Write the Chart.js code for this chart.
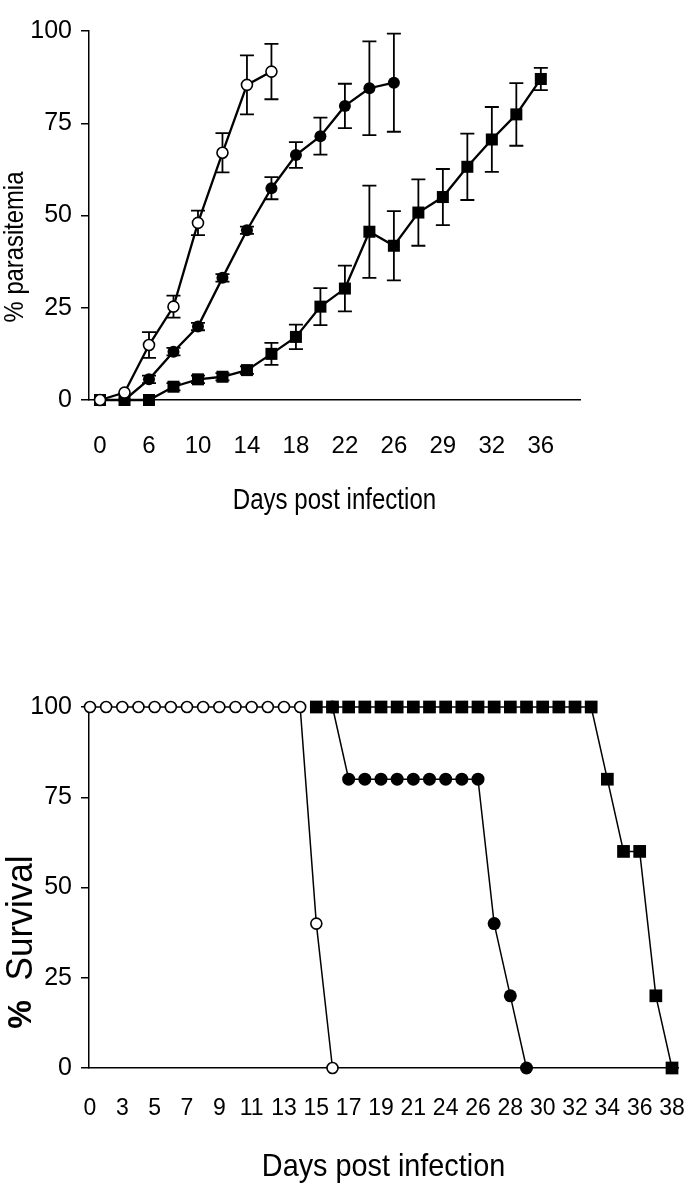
<!DOCTYPE html>
<html>
<head>
<meta charset="utf-8">
<script src="https://cdn.jsdelivr.net/npm/chart.js@4.4.1/dist/chart.umd.min.js"></script>
<style>
  body { margin: 0; background: #fff; }
  canvas { position: absolute; left: 0; }
  #parasitemia { top: 0; }
  #survival { top: 600px; }
</style>
</head>
<body>
<canvas id="parasitemia" width="698" height="540"></canvas>
<canvas id="survival" width="698" height="599"></canvas>
<script>
// ---- Parasitemia data (one entry per sampling day) ----
const paraDays = [0, 3, 6, 8, 10, 12, 14, 16, 18, 20, 22, 24, 26, 28, 29, 31, 32, 34, 36];
const openPara     = [0, 2, 14.9, 25.3, 48, 67, 85.4, 89];
const openParaErr  = [0, 0, 3.5, 3, 3.3, 5.3, 8, 7.5];
const filledPara    = [null, 0, 5.6, 13.1, 19.9, 33.1, 46, 57.4, 66.4, 71.5, 79.7, 84.5, 86];
const filledParaErr = [null, 0, 1, 1, 1, 1, 1, 3, 3.5, 5, 6, 12.7, 13.3];
const squarePara    = [0, 0, 0, 3.6, 5.6, 6.3, 8.1, 12.5, 17.1, 25.3, 30.2, 45.6, 41.8, 50.8, 55, 63.2, 70.6, 77.4, 87];
const squareParaErr = [0, 0, 0, 1, 1, 1, 1, 3, 3.3, 5, 6.2, 12.5, 9.4, 9, 7.6, 9, 8.8, 8.5, 3];

// ---- Survival data ----
const survDays = [0, 2, 3, 4, 5, 6, 7, 8, 9, 10, 11, 12, 13, 14, 15, 16, 17, 18, 19, 20, 21, 22,
                  24, 25, 26, 27, 28, 29, 30, 31, 32, 33, 34, 35, 36, 37, 38];
const openSurv   = [100, 100, 100, 100, 100, 100, 100, 100, 100, 100, 100, 100, 100, 100, 40, 0];
const filledSurv = [null, null, null, null, null, null, null, null, null, null, null, null, null, null,
                    null, 100, 80, 80, 80, 80, 80, 80, 80, 80, 80, 40, 20, 0];
const squareSurv = [null, null, null, null, null, null, null, null, null, null, null, null, null, null,
                    100, 100, 100, 100, 100, 100, 100, 100, 100, 100, 100, 100, 100, 100, 100, 100, 100, 100,
                    80, 60, 60, 20, 0];

const yTicks = [0, 25, 50, 75, 100];

const FONT = '"Liberation Sans", Arial, sans-serif';
Chart.defaults.color = '#000';
Chart.defaults.font.family = FONT;

function toPoints(values, errors) {
    return values
        .map((v, i) => ({ x: i, y: v, err: errors ? errors[i] : 0 }))
        .filter(p => p.y !== null);
}

// error bars with caps, drawn under the markers
const errorBars = {
    id: 'errorBars',
    beforeDatasetsDraw(chart) {
        const { ctx, scales: { x, y } } = chart;
        ctx.save();
        ctx.strokeStyle = '#000';
        ctx.lineWidth = 1.8;
        chart.data.datasets.forEach(ds => {
            ds.data.forEach(p => {
                if (!p.err) return;
                const px = x.getPixelForValue(p.x);
                const top = y.getPixelForValue(p.y + p.err);
                const bot = y.getPixelForValue(p.y - p.err);
                ctx.beginPath();
                ctx.moveTo(px, top); ctx.lineTo(px, bot);
                ctx.moveTo(px - 7, top); ctx.lineTo(px + 7, top);
                ctx.moveTo(px - 7, bot); ctx.lineTo(px + 7, bot);
                ctx.stroke();
            });
        });
        ctx.restore();
    }
};

// axis titles: narrow-looking text (squeezed along the writing direction),
// mixed font runs allowed, optional rotation for the y title
const axisTitles = {
    id: 'axisTitles',
    afterDraw(chart, args, opts) {
        const ctx = chart.ctx;
        const area = chart.chartArea;
        opts.items.forEach(item => {
            ctx.save();
            const cx = item.x === undefined ? (area.left + area.right) / 2 : item.x;
            ctx.translate(cx, item.y);
            if (item.vertical) ctx.rotate(-Math.PI / 2);
            ctx.scale(item.squeeze || 1, 1);
            ctx.fillStyle = '#000';
            ctx.textBaseline = 'middle';
            ctx.textAlign = 'left';
            let total = 0;
            item.parts.forEach(p => { ctx.font = p.font; total += ctx.measureText(p.text).width; });
            let pos = -total / 2;
            item.parts.forEach(p => {
                ctx.font = p.font;
                ctx.fillText(p.text, pos, 0);
                pos += ctx.measureText(p.text).width;
            });
            ctx.restore();
        });
    }
};

function xScale(days, min, max, fontSize, pad, height) {
    return {
        type: 'linear',
        min: min,
        max: max,
        afterBuildTicks: s => { s.ticks = days.map((d, i) => ({ value: i })).filter(t => t.value % 2 === 0); },
        afterFit: s => { s.height = height; s.paddingLeft = 0; s.paddingRight = 0; },
        grid: { display: false },
        border: { display: true, color: '#000', width: 1.5 },
        ticks: {
            padding: pad,
            maxRotation: 0,
            autoSkip: false,
            font: { size: fontSize },
            callback: v => days[v]
        }
    };
}

function yScale(fontSize) {
    return {
        min: 0,
        max: 100,
        afterBuildTicks: s => { s.ticks = yTicks.map(v => ({ value: v })); },
        afterFit: s => { s.width = 89; s.paddingTop = 0; s.paddingBottom = 0; },
        grid: { drawOnChartArea: false, drawTicks: true, tickLength: 8, color: '#000', lineWidth: 1.5 },
        border: { display: true, color: '#000', width: 1.5 },
        ticks: { padding: 9, font: { size: fontSize } }
    };
}

// ---- Top chart: % parasitemia ----
new Chart(document.getElementById('parasitemia'), {
    type: 'line',
    data: {
        datasets: [
            {
                data: toPoints(openPara, openParaErr),
                borderColor: '#000', borderWidth: 2.3,
                pointStyle: 'circle', pointRadius: 5.5, pointBorderWidth: 1.6,
                pointBackgroundColor: '#fff', pointBorderColor: '#000',
                clip: false
            },
            {
                data: toPoints(squarePara, squareParaErr),
                borderColor: '#000', borderWidth: 2.3,
                pointStyle: 'rect', pointRadius: 8.5, pointBorderWidth: 0,
                pointBackgroundColor: '#000',
                clip: false
            },
            {
                data: toPoints(filledPara, filledParaErr),
                borderColor: '#000', borderWidth: 2.3,
                pointStyle: 'circle', pointRadius: 6, pointBorderWidth: 0,
                pointBackgroundColor: '#000',
                clip: false
            }
        ]
    },
    options: {
        responsive: false,
        animation: false,
        layout: { padding: { top: 31, right: 118, bottom: 0, left: 0 } },
        plugins: {
            legend: { display: false },
            tooltip: { enabled: false },
            axisTitles: {
                items: [
                    { vertical: true, x: 15, y: 247, squeeze: 0.85,
                      parts: [{ text: '% parasitemia', font: '28px ' + FONT }] },
                    { y: 501, squeeze: 0.83,
                      parts: [{ text: 'Days post infection', font: '29px ' + FONT }] }
                ]
            }
        },
        scales: {
            x: xScale(paraDays, -0.45, 19.6, 24, 24, 140),
            y: yScale(25)
        }
    },
    plugins: [errorBars, axisTitles]
});

// ---- Bottom chart: % survival ----
new Chart(document.getElementById('survival'), {
    type: 'line',
    data: {
        datasets: [
            {
                data: toPoints(openSurv),
                borderColor: '#000', borderWidth: 1.5,
                pointStyle: 'circle', pointRadius: 5.5, pointBorderWidth: 1.6,
                pointBackgroundColor: '#fff', pointBorderColor: '#000',
                clip: false
            },
            {
                data: toPoints(squareSurv),
                borderColor: '#000', borderWidth: 1.5,
                pointStyle: 'rect', pointRadius: 9, pointBorderWidth: 0,
                pointBackgroundColor: '#000',
                clip: false
            },
            {
                data: toPoints(filledSurv),
                borderColor: '#000', borderWidth: 1.5,
                pointStyle: 'circle', pointRadius: 6.5, pointBorderWidth: 0,
                pointBackgroundColor: '#000',
                clip: false
            }
        ]
    },
    options: {
        responsive: false,
        animation: false,
        layout: { padding: { top: 107, right: 20, bottom: 0, left: 0 } },
        plugins: {
            legend: { display: false },
            tooltip: { enabled: false },
            axisTitles: {
                items: [
                    { vertical: true, x: 22, y: 342, squeeze: 0.95,
                      parts: [
                          { text: '%', font: 'bold 34px ' + FONT },
                          { text: '  Survival', font: '37px ' + FONT }
                      ] },
                    { y: 567, squeeze: 0.9,
                      parts: [{ text: 'Days post infection', font: '32px ' + FONT }] }
                ]
            }
        },
        scales: {
            x: xScale(survDays, -0.06, 36.37, 23, 19, 131),
            y: yScale(25)
        }
    },
    plugins: [axisTitles]
});
</script>
</body>
</html>
